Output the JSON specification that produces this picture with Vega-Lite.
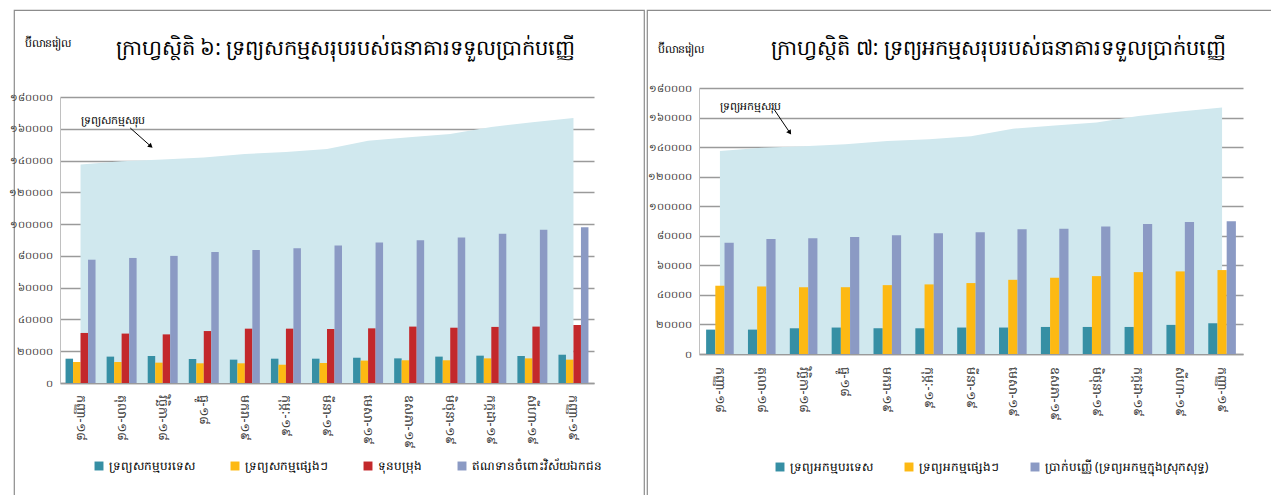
{
  "$schema": "https://vega.github.io/schema/vega-lite/v6.json",
  "padding": {"left": 7, "top": 9, "right": 0, "bottom": 0},
  "autosize": {"type": "pad"},
  "bounds": "flush",
  "background": "white",
  "spacing": 3,
  "config": {
    "font": "Noto Sans",
    "view": {"stroke": "#8c8c8c", "strokeWidth": 1.2},
    "axis": {"labelFont": "Noto Sans", "titleFont": "Noto Sans"},
    "legend": {"labelFont": "Noto Sans"}
  },
  "resolve": {"scale": {"color": "independent", "xOffset": "independent", "x": "independent", "y": "independent"}, "legend": {"color": "independent"}},
  "datasets": {
    "totals": [
      {"month": "កញ្ញា-១៨", "total": 137450},
      {"month": "តុលា-១៨", "total": 139500},
      {"month": "វិច្ឆិកា-១៨", "total": 140600},
      {"month": "ធ្នូ-១៨", "total": 142000},
      {"month": "មករា-១៩", "total": 144100},
      {"month": "កុម្ភៈ-១៩", "total": 145400},
      {"month": "មីនា-១៩", "total": 147300},
      {"month": "មេសា-១៩", "total": 152500},
      {"month": "ឧសភា-១៩", "total": 154600},
      {"month": "មិថុនា-១៩", "total": 156700},
      {"month": "កក្កដា-១៩", "total": 161100},
      {"month": "សីហា-១៩", "total": 164100},
      {"month": "កញ្ញា-១៩", "total": 166800}
    ],
    "assets": [
      {"month": "កញ្ញា-១៨", "series": "ទ្រព្យសកម្មបរទេស", "value": 15300},
      {"month": "តុលា-១៨", "series": "ទ្រព្យសកម្មបរទេស", "value": 16600},
      {"month": "វិច្ឆិកា-១៨", "series": "ទ្រព្យសកម្មបរទេស", "value": 17000},
      {"month": "ធ្នូ-១៨", "series": "ទ្រព្យសកម្មបរទេស", "value": 15100},
      {"month": "មករា-១៩", "series": "ទ្រព្យសកម្មបរទេស", "value": 14700},
      {"month": "កុម្ភៈ-១៩", "series": "ទ្រព្យសកម្មបរទេស", "value": 15300},
      {"month": "មីនា-១៩", "series": "ទ្រព្យសកម្មបរទេស", "value": 15300},
      {"month": "មេសា-១៩", "series": "ទ្រព្យសកម្មបរទេស", "value": 15900},
      {"month": "ឧសភា-១៩", "series": "ទ្រព្យសកម្មបរទេស", "value": 15500},
      {"month": "មិថុនា-១៩", "series": "ទ្រព្យសកម្មបរទេស", "value": 16600},
      {"month": "កក្កដា-១៩", "series": "ទ្រព្យសកម្មបរទេស", "value": 17200},
      {"month": "សីហា-១៩", "series": "ទ្រព្យសកម្មបរទេស", "value": 17000},
      {"month": "កញ្ញា-១៩", "series": "ទ្រព្យសកម្មបរទេស", "value": 17800},
      {"month": "កញ្ញា-១៨", "series": "ទ្រព្យសកម្មផ្សេងៗ", "value": 13200},
      {"month": "តុលា-១៨", "series": "ទ្រព្យសកម្មផ្សេងៗ", "value": 13200},
      {"month": "វិច្ឆិកា-១៨", "series": "ទ្រព្យសកម្មផ្សេងៗ", "value": 12800},
      {"month": "ធ្នូ-១៨", "series": "ទ្រព្យសកម្មផ្សេងៗ", "value": 12400},
      {"month": "មករា-១៩", "series": "ទ្រព្យសកម្មផ្សេងៗ", "value": 12400},
      {"month": "កុម្ភៈ-១៩", "series": "ទ្រព្យសកម្មផ្សេងៗ", "value": 11500},
      {"month": "មីនា-១៩", "series": "ទ្រព្យសកម្មផ្សេងៗ", "value": 12600},
      {"month": "មេសា-១៩", "series": "ទ្រព្យសកម្មផ្សេងៗ", "value": 14100},
      {"month": "ឧសភា-១៩", "series": "ទ្រព្យសកម្មផ្សេងៗ", "value": 14300},
      {"month": "មិថុនា-១៩", "series": "ទ្រព្យសកម្មផ្សេងៗ", "value": 14300},
      {"month": "កក្កដា-១៩", "series": "ទ្រព្យសកម្មផ្សេងៗ", "value": 15500},
      {"month": "សីហា-១៩", "series": "ទ្រព្យសកម្មផ្សេងៗ", "value": 15500},
      {"month": "កញ្ញា-១៩", "series": "ទ្រព្យសកម្មផ្សេងៗ", "value": 14700},
      {"month": "កញ្ញា-១៨", "series": "ទុនបម្រុង", "value": 31500},
      {"month": "តុលា-១៨", "series": "ទុនបម្រុង", "value": 31100},
      {"month": "វិច្ឆិកា-១៨", "series": "ទុនបម្រុង", "value": 30600},
      {"month": "ធ្នូ-១៨", "series": "ទុនបម្រុង", "value": 32700},
      {"month": "មករា-១៩", "series": "ទុនបម្រុង", "value": 34200},
      {"month": "កុម្ភៈ-១៩", "series": "ទុនបម្រុង", "value": 34200},
      {"month": "មីនា-១៩", "series": "ទុនបម្រុង", "value": 34000},
      {"month": "មេសា-១៩", "series": "ទុនបម្រុង", "value": 34400},
      {"month": "ឧសភា-១៩", "series": "ទុនបម្រុង", "value": 35500},
      {"month": "មិថុនា-១៩", "series": "ទុនបម្រុង", "value": 34800},
      {"month": "កក្កដា-១៩", "series": "ទុនបម្រុង", "value": 35300},
      {"month": "សីហា-១៩", "series": "ទុនបម្រុង", "value": 35500},
      {"month": "កញ្ញា-១៩", "series": "ទុនបម្រុង", "value": 36500},
      {"month": "កញ្ញា-១៨", "series": "ឥណទានចំពោះវិស័យឯកជន", "value": 77600},
      {"month": "តុលា-១៨", "series": "ឥណទានចំពោះវិស័យឯកជន", "value": 78700},
      {"month": "វិច្ឆិកា-១៨", "series": "ឥណទានចំពោះវិស័យឯកជន", "value": 80000},
      {"month": "ធ្នូ-១៨", "series": "ឥណទានចំពោះវិស័យឯកជន", "value": 82500},
      {"month": "មករា-១៩", "series": "ឥណទានចំពោះវិស័យឯកជន", "value": 83700},
      {"month": "កុម្ភៈ-១៩", "series": "ឥណទានចំពោះវិស័យឯកជន", "value": 84800},
      {"month": "មីនា-១៩", "series": "ឥណទានចំពោះវិស័យឯកជន", "value": 86500},
      {"month": "មេសា-១៩", "series": "ឥណទានចំពោះវិស័យឯកជន", "value": 88400},
      {"month": "ឧសភា-១៩", "series": "ឥណទានចំពោះវិស័យឯកជន", "value": 89800},
      {"month": "មិថុនា-១៩", "series": "ឥណទានចំពោះវិស័យឯកជន", "value": 91500},
      {"month": "កក្កដា-១៩", "series": "ឥណទានចំពោះវិស័យឯកជន", "value": 94000},
      {"month": "សីហា-១៩", "series": "ឥណទានចំពោះវិស័យឯកជន", "value": 96500},
      {"month": "កញ្ញា-១៩", "series": "ឥណទានចំពោះវិស័យឯកជន", "value": 98000}
    ],
    "liabilities": [
      {"month": "កញ្ញា-១៨", "series": "ទ្រព្យអកម្មបរទេស", "value": 16500},
      {"month": "តុលា-១៨", "series": "ទ្រព្យអកម្មបរទេស", "value": 16500},
      {"month": "វិច្ឆិកា-១៨", "series": "ទ្រព្យអកម្មបរទេស", "value": 17400},
      {"month": "ធ្នូ-១៨", "series": "ទ្រព្យអកម្មបរទេស", "value": 17900},
      {"month": "មករា-១៩", "series": "ទ្រព្យអកម្មបរទេស", "value": 17400},
      {"month": "កុម្ភៈ-១៩", "series": "ទ្រព្យអកម្មបរទេស", "value": 17400},
      {"month": "មីនា-១៩", "series": "ទ្រព្យអកម្មបរទេស", "value": 17900},
      {"month": "មេសា-១៩", "series": "ទ្រព្យអកម្មបរទេស", "value": 17900},
      {"month": "ឧសភា-១៩", "series": "ទ្រព្យអកម្មបរទេស", "value": 18300},
      {"month": "មិថុនា-១៩", "series": "ទ្រព្យអកម្មបរទេស", "value": 18300},
      {"month": "កក្កដា-១៩", "series": "ទ្រព្យអកម្មបរទេស", "value": 18300},
      {"month": "សីហា-១៩", "series": "ទ្រព្យអកម្មបរទេស", "value": 19700},
      {"month": "កញ្ញា-១៩", "series": "ទ្រព្យអកម្មបរទេស", "value": 20800},
      {"month": "កញ្ញា-១៨", "series": "ទ្រព្យអកម្មផ្សេងៗ", "value": 46200},
      {"month": "តុលា-១៨", "series": "ទ្រព្យអកម្មផ្សេងៗ", "value": 45700},
      {"month": "វិច្ឆិកា-១៨", "series": "ទ្រព្យអកម្មផ្សេងៗ", "value": 45200},
      {"month": "ធ្នូ-១៨", "series": "ទ្រព្យអកម្មផ្សេងៗ", "value": 45200},
      {"month": "មករា-១៩", "series": "ទ្រព្យអកម្មផ្សេងៗ", "value": 46600},
      {"month": "កុម្ភៈ-១៩", "series": "ទ្រព្យអកម្មផ្សេងៗ", "value": 47100},
      {"month": "មីនា-១៩", "series": "ទ្រព្យអកម្មផ្សេងៗ", "value": 48000},
      {"month": "មេសា-១៩", "series": "ទ្រព្យអកម្មផ្សេងៗ", "value": 50200},
      {"month": "ឧសភា-១៩", "series": "ទ្រព្យអកម្មផ្សេងៗ", "value": 51600},
      {"month": "មិថុនា-១៩", "series": "ទ្រព្យអកម្មផ្សេងៗ", "value": 52700},
      {"month": "កក្កដា-១៩", "series": "ទ្រព្យអកម្មផ្សេងៗ", "value": 55400},
      {"month": "សីហា-១៩", "series": "ទ្រព្យអកម្មផ្សេងៗ", "value": 55900},
      {"month": "កញ្ញា-១៩", "series": "ទ្រព្យអកម្មផ្សេងៗ", "value": 56800},
      {"month": "កញ្ញា-១៨", "series": "ប្រាក់បញ្ញើ (ទ្រព្យអកម្មក្នុងស្រុកសុទ្ធ)", "value": 75300},
      {"month": "តុលា-១៨", "series": "ប្រាក់បញ្ញើ (ទ្រព្យអកម្មក្នុងស្រុកសុទ្ធ)", "value": 77800},
      {"month": "វិច្ឆិកា-១៨", "series": "ប្រាក់បញ្ញើ (ទ្រព្យអកម្មក្នុងស្រុកសុទ្ធ)", "value": 78300},
      {"month": "ធ្នូ-១៨", "series": "ប្រាក់បញ្ញើ (ទ្រព្យអកម្មក្នុងស្រុកសុទ្ធ)", "value": 79200},
      {"month": "មករា-១៩", "series": "ប្រាក់បញ្ញើ (ទ្រព្យអកម្មក្នុងស្រុកសុទ្ធ)", "value": 80300},
      {"month": "កុម្ភៈ-១៩", "series": "ប្រាក់បញ្ញើ (ទ្រព្យអកម្មក្នុងស្រុកសុទ្ធ)", "value": 81700},
      {"month": "មីនា-១៩", "series": "ប្រាក់បញ្ញើ (ទ្រព្យអកម្មក្នុងស្រុកសុទ្ធ)", "value": 82400},
      {"month": "មេសា-១៩", "series": "ប្រាក់បញ្ញើ (ទ្រព្យអកម្មក្នុងស្រុកសុទ្ធ)", "value": 84400},
      {"month": "ឧសភា-១៩", "series": "ប្រាក់បញ្ញើ (ទ្រព្យអកម្មក្នុងស្រុកសុទ្ធ)", "value": 84800},
      {"month": "មិថុនា-១៩", "series": "ប្រាក់បញ្ញើ (ទ្រព្យអកម្មក្នុងស្រុកសុទ្ធ)", "value": 86200},
      {"month": "កក្កដា-១៩", "series": "ប្រាក់បញ្ញើ (ទ្រព្យអកម្មក្នុងស្រុកសុទ្ធ)", "value": 88000},
      {"month": "សីហា-១៩", "series": "ប្រាក់បញ្ញើ (ទ្រព្យអកម្មក្នុងស្រុកសុទ្ធ)", "value": 89400},
      {"month": "កញ្ញា-១៩", "series": "ប្រាក់បញ្ញើ (ទ្រព្យអកម្មក្នុងស្រុកសុទ្ធ)", "value": 89800}
    ]
  },
  "hconcat": [
    {
      "width": 630,
      "height": 486,
      "layer": [
        {
          "layer": [
            {
              "data": {"name": "totals"},
              "mark": {"type": "area", "color": "#D0E8EE", "opacity": 1},
              "encoding": {
                "x": {"field": "month", "type": "nominal", "bandPosition": 0.5,
                  "scale": {"domain": ["កញ្ញា-១៨","តុលា-១៨","វិច្ឆិកា-១៨","ធ្នូ-១៨","មករា-១៩","កុម្ភៈ-១៩","មីនា-១៩","មេសា-១៩","ឧសភា-១៩","មិថុនា-១៩","កក្កដា-១៩","សីហា-១៩","កញ្ញា-១៩"], "range": [46, 580], "paddingInner": 0.27, "paddingOuter": 0.135},
                  "axis": {"title": null, "offset": -113, "labelAngle": 90, "labelAlign": "left", "labelBaseline": "middle", "labelPadding": 11, "ticks": false, "domainColor": "#9a9a9a", "domainWidth": 1.5, "labelFontSize": 12.5, "labelColor": "#333333"}},
                "y": {"field": "total", "type": "quantitative",
                  "scale": {"domain": [0, 180000], "range": [373, 87], "nice": false, "zero": true},
                  "axis": {"offset": -46, "values": [0,20000,40000,60000,80000,100000,120000,140000,160000,180000], "format": "d",
                    "labelExpr": "replace(replace(replace(replace(replace(replace(datum.label, regexp('0','g'), '០'), regexp('1','g'), '១'), regexp('2','g'), '២'), regexp('4','g'), '៤'), regexp('6','g'), '៦'), regexp('8','g'), '៨')",
                    "ticks": false, "labelPadding": 8, "labelFontSize": 10, "labelColor": "#333333", "domainColor": "#c0c0c0", "domainWidth": 1,
                    "grid": true, "gridColor": "#9a9a9a", "gridWidth": 1.5,
                    "title": "ប៊ីលានរៀល", "titleAngle": 0, "titleAlign": "left", "titleBaseline": "middle", "titleX": -36, "titleY": 33, "titleFontSize": 11, "titleFontWeight": "normal", "titleColor": "#000000"}}
              }
            },
            {
              "data": {"name": "assets"},
              "mark": {"type": "bar"},
              "encoding": {
                "x": {"field": "month", "type": "nominal"},
                "xOffset": {"field": "series", "type": "nominal", "sort": ["ទ្រព្យសកម្មបរទេស","ទ្រព្យសកម្មផ្សេងៗ","ទុនបម្រុង","ឥណទានចំពោះវិស័យឯកជន"], "scale": {"paddingInner": 0, "paddingOuter": 0}},
                "y": {"field": "value", "type": "quantitative"},
                "color": {"field": "series", "type": "nominal",
                  "scale": {"domain": ["ទ្រព្យសកម្មបរទេស","ទ្រព្យសកម្មផ្សេងៗ","ទុនបម្រុង","ឥណទានចំពោះវិស័យឯកជន"], "range": ["#368FA4","#FDB913","#C3282B","#8B9AC4"]},
                  "legend": {"orient": "none", "legendX": 79, "legendY": 450, "direction": "horizontal", "columns": 4, "title": null, "symbolType": "square", "symbolSize": 80, "symbolStrokeWidth": 0, "labelFontSize": 12, "labelLimit": 0, "labelColor": "#000000", "columnPadding": 34}}
              }
            },
            {
              "data": {"values": [{"month": "កញ្ញា-១៨", "value": 164700, "label": "ទ្រព្យសកម្មសរុប"}]},
              "mark": {"type": "text", "align": "left", "baseline": "middle", "fontSize": 11, "color": "#000000"},
              "encoding": {
                "x": {"field": "month", "type": "nominal", "bandPosition": 0.5},
                "y": {"field": "value", "type": "quantitative"},
                "text": {"field": "label"}
              }
            }
          ]
        },
        {
          "data": {"values": [{"ax": 1.71, "ay": 160500, "ax2": 2.21, "ay2": 149000}]},
          "layer": [
            {
              "mark": {"type": "rule", "color": "#000000", "strokeWidth": 1},
              "encoding": {
                "x": {"field": "ax", "type": "quantitative", "scale": {"domain": [0, 13], "range": [46, 580], "nice": false, "zero": false},
                  "axis": {"orient": "top", "labels": false, "ticks": false, "domain": false, "grid": false,
                    "title": "ក្រាហ្វស្ថិតិ ៦: ទ្រព្យសកម្មសរុបរបស់ធនាគារទទួលប្រាក់បញ្ញើ", "titleX": 331, "titleY": 38, "titleAlign": "center", "titleBaseline": "middle", "titleAngle": 0, "titleFontSize": 21, "titleFontWeight": "normal", "titleColor": "#000000"}},
                "x2": {"field": "ax2"},
                "y": {"field": "ay", "type": "quantitative"},
                "y2": {"field": "ay2"}
              }
            },
            {
              "mark": {"type": "point", "shape": "triangle-right", "filled": true, "color": "#000000", "size": 30, "angle": 41, "opacity": 1},
              "encoding": {
                "x": {"field": "ax2", "type": "quantitative"},
                "y": {"field": "ay2", "type": "quantitative"}
              }
            }
          ]
        }
      ],
      "resolve": {"scale": {"x": "independent"}}
    },
    {
      "width": 631,
      "height": 486,
      "layer": [
        {
          "layer": [
            {
              "data": {"name": "totals"},
              "mark": {"type": "area", "color": "#D0E8EE", "opacity": 1},
              "encoding": {
                "x": {"field": "month", "type": "nominal", "bandPosition": 0.5,
                  "scale": {"domain": ["កញ្ញា-១៨","តុលា-១៨","វិច្ឆិកា-១៨","ធ្នូ-១៨","មករា-១៩","កុម្ភៈ-១៩","មីនា-១៩","មេសា-១៩","ឧសភា-១៩","មិថុនា-១៩","កក្កដា-១៩","សីហា-១៩","កញ្ញា-១៩"], "range": [52, 596], "paddingInner": 0.34, "paddingOuter": 0.17},
                  "axis": {"title": null, "offset": -142, "labelAngle": 90, "labelAlign": "left", "labelBaseline": "middle", "labelPadding": 12, "ticks": false, "domainColor": "#9a9a9a", "domainWidth": 1.5, "labelFontSize": 12.5, "labelColor": "#333333"}},
                "y": {"field": "total", "type": "quantitative",
                  "scale": {"domain": [0, 180000], "range": [344, 78], "nice": false, "zero": true},
                  "axis": {"offset": -52, "values": [0,20000,40000,60000,80000,100000,120000,140000,160000,180000], "format": "d",
                    "labelExpr": "replace(replace(replace(replace(replace(replace(datum.label, regexp('0','g'), '០'), regexp('1','g'), '១'), regexp('2','g'), '២'), regexp('4','g'), '៤'), regexp('6','g'), '៦'), regexp('8','g'), '៨')",
                    "ticks": false, "labelPadding": 8, "labelFontSize": 10, "labelColor": "#333333", "domainColor": "#c0c0c0", "domainWidth": 1,
                    "grid": true, "gridColor": "#9a9a9a", "gridWidth": 1.5,
                    "title": "ប៊ីលានរៀល", "titleAngle": 0, "titleAlign": "left", "titleBaseline": "middle", "titleX": -42, "titleY": 39, "titleFontSize": 11, "titleFontWeight": "normal", "titleColor": "#000000"}}
              }
            },
            {
              "data": {"name": "liabilities"},
              "mark": {"type": "bar"},
              "encoding": {
                "x": {"field": "month", "type": "nominal"},
                "xOffset": {"field": "series", "type": "nominal", "sort": ["ទ្រព្យអកម្មបរទេស","ទ្រព្យអកម្មផ្សេងៗ","ប្រាក់បញ្ញើ (ទ្រព្យអកម្មក្នុងស្រុកសុទ្ធ)"], "scale": {"paddingInner": 0, "paddingOuter": 0}},
                "y": {"field": "value", "type": "quantitative"},
                "color": {"field": "series", "type": "nominal",
                  "scale": {"domain": ["ទ្រព្យអកម្មបរទេស","ទ្រព្យអកម្មផ្សេងៗ","ប្រាក់បញ្ញើ (ទ្រព្យអកម្មក្នុងស្រុកសុទ្ធ)"], "range": ["#368FA4","#FDB913","#8B9AC4"]},
                  "legend": {"orient": "none", "legendX": 127, "legendY": 451, "direction": "horizontal", "columns": 3, "title": null, "symbolType": "square", "symbolSize": 80, "symbolStrokeWidth": 0, "labelFontSize": 12, "labelLimit": 0, "labelColor": "#000000", "columnPadding": 30}}
              }
            },
            {
              "data": {"values": [{"month": "កញ្ញា-១៨", "value": 167300, "label": "ទ្រព្យអកម្មសរុប"}]},
              "mark": {"type": "text", "align": "left", "baseline": "middle", "fontSize": 11, "color": "#000000"},
              "encoding": {
                "x": {"field": "month", "type": "nominal", "bandPosition": 0.5},
                "y": {"field": "value", "type": "quantitative"},
                "text": {"field": "label"}
              }
            }
          ]
        },
        {
          "data": {"values": [{"ax": 1.79, "ay": 165700, "ax2": 2.17, "ay2": 149800}]},
          "layer": [
            {
              "mark": {"type": "rule", "color": "#000000", "strokeWidth": 1},
              "encoding": {
                "x": {"field": "ax", "type": "quantitative", "scale": {"domain": [0, 13], "range": [52, 596], "nice": false, "zero": false},
                  "axis": {"orient": "top", "labels": false, "ticks": false, "domain": false, "grid": false,
                    "title": "ក្រាហ្វស្ថិតិ ៧: ទ្រព្យអកម្មសរុបរបស់ធនាគារទទួលប្រាក់បញ្ញើ", "titleX": 351, "titleY": 38, "titleAlign": "center", "titleBaseline": "middle", "titleAngle": 0, "titleFontSize": 21, "titleFontWeight": "normal", "titleColor": "#000000"}},
                "x2": {"field": "ax2"},
                "y": {"field": "ay", "type": "quantitative"},
                "y2": {"field": "ay2"}
              }
            },
            {
              "mark": {"type": "point", "shape": "triangle-right", "filled": true, "color": "#000000", "size": 30, "angle": 56, "opacity": 1},
              "encoding": {
                "x": {"field": "ax2", "type": "quantitative"},
                "y": {"field": "ay2", "type": "quantitative"}
              }
            }
          ]
        }
      ],
      "resolve": {"scale": {"x": "independent"}}
    }
  ]
}
